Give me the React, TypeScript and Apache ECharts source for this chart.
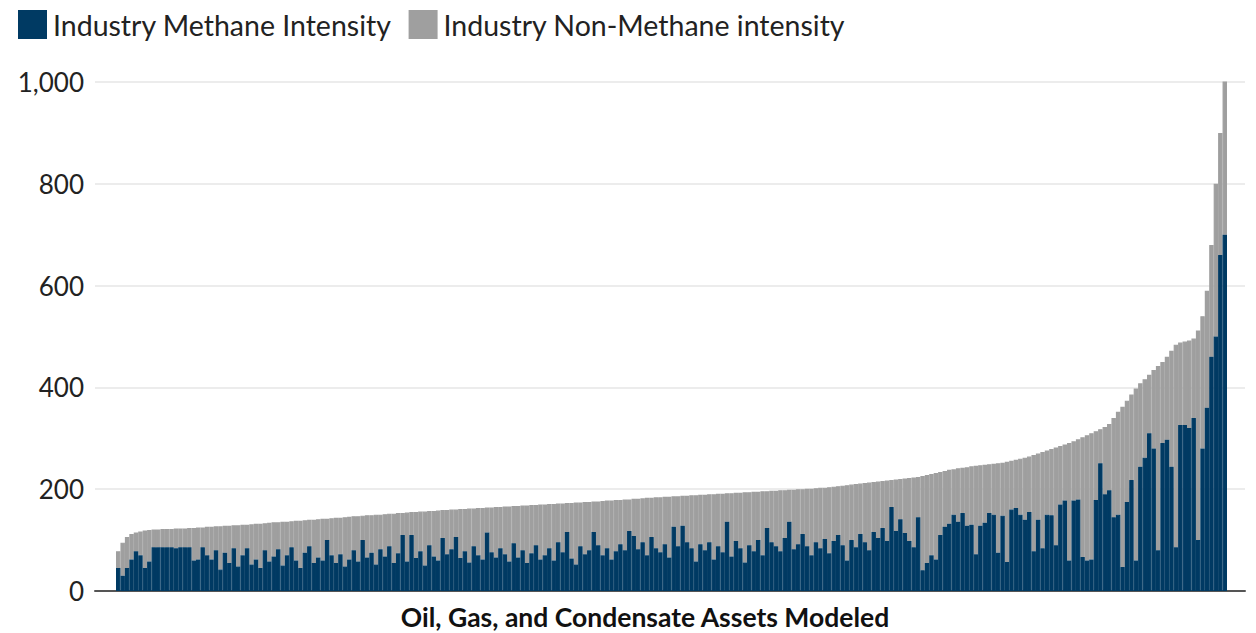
import React, { useEffect, useRef } from "react";
import * as echarts from "echarts";

// Total intensity per asset (methane + non-methane), sorted ascending
const totalIntensity = [
  78, 95, 106, 112, 115, 117, 119, 120, 121, 121, 122,
  122, 122, 123, 123, 123, 124, 124,
  125, 125, 126, 126, 127, 127, 128, 128,
  129, 129, 130, 130, 131, 132, 132, 133, 134, 135,
  135, 136, 136, 137, 138, 138, 139, 140, 140, 141,
  142, 142, 143, 144, 144, 145, 146, 147, 147, 148,
  149, 149, 150, 150, 151, 152, 152, 153, 153, 154, 155, 155,
  156, 156, 157, 157, 158, 159, 159, 160, 160, 161, 161, 162, 162,
  163, 163, 164, 164, 165, 165, 166, 166, 167, 167,
  168, 168, 169, 169, 170, 170, 171, 171, 172, 172, 173, 173, 174, 174, 175, 175, 176, 176, 177, 178, 178, 179,
  179, 180, 180, 181, 181, 182, 183, 183, 184, 184, 185, 185, 186, 186, 187, 187, 188, 188, 189, 189, 190, 190, 191,
  191, 192, 192, 193, 193, 194, 194, 195, 195, 196, 196, 197, 197, 198, 198, 199, 199, 200, 200, 201, 201, 202,
  203, 203, 204, 205, 206, 207, 208, 209, 210, 211, 212, 213, 214, 215, 216, 217, 218, 219, 220, 221, 222, 223, 224,
  226, 228, 230, 232, 234, 236, 238, 239, 241, 242, 243, 245, 246, 247, 248, 249, 250, 251, 252, 254,
  256, 258, 260, 262, 264, 267, 270, 273, 276, 279, 282, 285, 288, 291, 294,
  298, 302, 306, 310, 314, 318, 322, 328, 340, 352, 362, 374, 386, 398, 408,
  416, 425, 434, 442, 450, 460, 472, 484, 488, 490, 492, 496, 512, 540,
  590, 680, 800, 900, 1004,
];

// Methane intensity per asset (same order)
const methaneIntensity = [
  45, 30, 45, 62, 78, 70, 45, 58, 86, 86, 86, 86, 86, 84, 86, 86, 86, 60, 62, 86,
  70, 62, 80, 42, 75, 55, 84, 48, 70, 84, 52, 62, 45, 80, 58, 68, 82, 50, 70, 86,
  60, 45, 75, 88, 55, 66,
  60, 100, 70, 55, 72, 48, 62, 80, 58, 100, 66, 75, 52, 82, 68, 88, 55, 74, 110, 58,
  110, 65, 78, 50, 90, 68, 60, 104, 72, 82, 106, 65, 78, 56, 88, 70, 62, 115, 76, 66, 84,
  72, 58, 94, 66, 80, 55, 74, 90, 62, 70, 84, 60, 96, 76, 116, 64, 52, 88, 72, 80,
  116, 90, 70, 84, 62, 78, 92, 80, 118, 108, 82, 96, 70, 106, 84, 76, 92, 66, 126, 88,
  128, 96, 84, 58, 92,
  80, 96, 62, 88, 76, 136, 68, 98, 84, 56, 90, 78, 100, 70, 124, 96, 88, 78, 104, 136,
  82, 92, 112, 88, 70, 96, 84, 102, 74, 98, 110, 90, 60, 100, 86, 112, 96, 80, 116, 104,
  124, 98, 165, 118, 141,
  114, 98, 86, 145, 41, 55, 70, 62, 110, 126, 132, 150, 136, 153, 128, 130, 72, 128, 134, 153,
  150, 75, 148, 57, 160, 163, 150, 140, 155, 78, 140, 84, 150, 149, 90, 170, 178, 60, 178,
  180, 67, 60, 62, 179, 251, 190, 198, 145, 150, 47, 175, 218, 60, 244, 262, 310, 280, 80, 291,
  297, 244, 86, 326, 326, 320, 340, 100, 280,
  360, 460, 500, 660, 700,
];

const yTicks = [0, 200, 400, 600, 800, 1000];
const seriesNames = ["Industry Methane Intensity", "Industry Non-Methane intensity"];
const xAxisTitle = "Oil, Gas, and Condensate Assets Modeled";

const NAVY = "#003a63";
const GREY = "#9f9f9f";
const FONT = "Lato, 'Noto Sans', sans-serif";

export default function App() {
  const ref = useRef<HTMLDivElement>(null);

  useEffect(() => {
    document.body.style.margin = "0";
    if (!ref.current) return;
    const chart = echarts.init(ref.current, undefined, { renderer: "svg" });

    const categories = totalIntensity.map((_, i) => String(i + 1));
    const nonMethane = totalIntensity.map((t, i) => Math.max(0, t - methaneIntensity[i]));

    chart.setOption({
      animation: false,
      textStyle: { fontFamily: FONT },
      legend: {
        left: 18,
        top: 10,
        padding: 0,
        itemWidth: 27,
        itemHeight: 27,
        itemGap: 17,
        icon: "rect",
        selectedMode: false,
        textStyle: { fontSize: 28.5, color: "#222", fontFamily: FONT, padding: [0, 0, 0, 2] },
        data: seriesNames,
      },
      grid: [
        { left: 95, right: 11, top: 82, bottom: 42 },
        { left: 116, right: 29, top: 82, bottom: 42 },
      ],
      xAxis: [
        {
          gridIndex: 0,
          type: "value",
          min: 0,
          max: 1,
          axisLine: { show: true, lineStyle: { color: "#555", width: 2 } },
          axisTick: { show: false },
          axisLabel: { show: false },
          splitLine: { show: false },
        },
        {
          gridIndex: 1,
          type: "category",
          data: categories,
          show: false,
        },
      ],
      yAxis: [
        {
          gridIndex: 0,
          type: "value",
          min: yTicks[0],
          max: yTicks[yTicks.length - 1],
          interval: 200,
          axisLine: { show: false },
          axisTick: { show: false },
          axisLabel: {
            margin: 11,
            fontSize: 26,
            color: "#222",
            fontFamily: FONT,
            formatter: (v: number) => v.toLocaleString("en-US"),
          },
          splitLine: { lineStyle: { color: "#e6e6e6", width: 1.5 } },
        },
        {
          gridIndex: 1,
          type: "value",
          min: yTicks[0],
          max: yTicks[yTicks.length - 1],
          show: false,
          splitLine: { show: false },
        },
      ],
      series: [
        {
          name: seriesNames[0],
          type: "bar",
          stack: "total",
          xAxisIndex: 1,
          yAxisIndex: 1,
          barCategoryGap: "0%",
          itemStyle: { color: NAVY, borderColor: NAVY, borderWidth: 1.2 },
          data: methaneIntensity,
        },
        {
          name: seriesNames[1],
          type: "bar",
          stack: "total",
          xAxisIndex: 1,
          yAxisIndex: 1,
          barCategoryGap: "0%",
          z: 1,
          itemStyle: { color: GREY, borderColor: GREY, borderWidth: 1.2 },
          data: nonMethane,
        },
      ],
      graphic: [
        {
          type: "text",
          x: 645,
          y: 617,
          style: {
            text: xAxisTitle,
            fontSize: 26.5,
            fontWeight: "bold",
            fontFamily: FONT,
            fill: "#111",
            textAlign: "center",
            textVerticalAlign: "middle",
          },
        },
      ],
    });

    return () => chart.dispose();
  }, []);

  return <div ref={ref} style={{ width: 1256, height: 633 }} />;
}
